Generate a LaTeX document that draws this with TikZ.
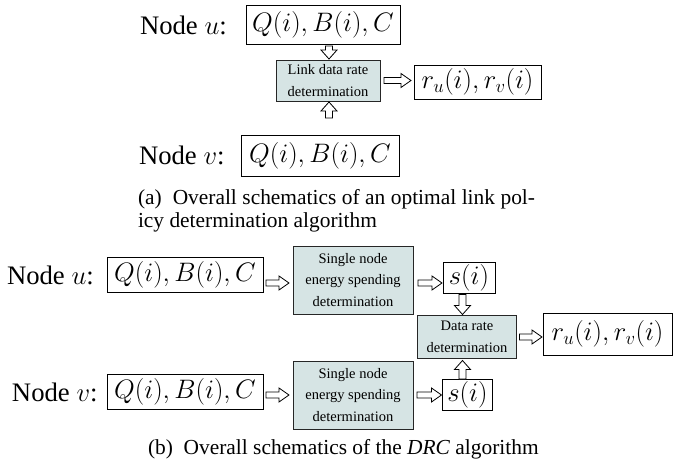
\documentclass[tikz,border=0pt]{standalone}
\usepackage{fix-cm}
\usepackage[no-math]{fontspec}
\setmainfont{Liberation Serif}
\usetikzlibrary{calc}
\definecolor{boxfill}{RGB}{214,228,228}
\newcommand\harrow[2]{\draw[barrow] let \p1=#1, \p2=#2 in
  (\x1,\y2+3pt) -- (\x2-10pt,\y2+3pt) -- (\x2-10pt,\y2+7pt) -- (\x2,\y2) --
  (\x2-10pt,\y2-7pt) -- (\x2-10pt,\y2-3pt) -- (\x1,\y2-3pt) -- cycle;}
\newcommand\darrow[2]{\draw[barrow] let \p1=#1, \p2=#2 in
  (\x2-3.5pt,\y1) -- (\x2-3.5pt,\y2+9pt) -- (\x2-8pt,\y2+9pt) -- (\x2,\y2) --
  (\x2+8pt,\y2+9pt) -- (\x2+3.5pt,\y2+9pt) -- (\x2+3.5pt,\y1) -- cycle;}
\newcommand\uarrow[2]{\draw[barrow] let \p1=#1, \p2=#2 in
  (\x2-3.5pt,\y1) -- (\x2-3.5pt,\y2-9pt) -- (\x2-8pt,\y2-9pt) -- (\x2,\y2) --
  (\x2+8pt,\y2-9pt) -- (\x2+3.5pt,\y2-9pt) -- (\x2+3.5pt,\y1) -- cycle;}
\tikzset{
  every node/.style={inner sep=0pt, outer sep=0pt},
  lbl/.style={font=\fontsize{26.7}{32}\selectfont},
  valbox/.style={draw, line width=1pt, font=\fontsize{26.7}{32}\selectfont},
  procbox/.style={draw=black!85, fill=boxfill, line width=1pt, align=center,
    font=\fontsize{14.5}{21.5}\selectfont},
  captxt/.style={font=\fontsize{21.4}{25}\selectfont},
  barrow/.style={draw, fill=white, line width=0.8pt, line join=miter},
}
\begin{document}
\begin{tikzpicture}[x=1pt,y=-1pt]
\useasboundingbox (0,0) rectangle (673,466);
% ---- panel (a)
\node[lbl, anchor=base west] (lu) at (140,34) {Node $u$:};
\node[valbox, minimum width=154, minimum height=39] (qu) at (323,24.5) {$Q(i), B(i), C$};
\node[procbox, minimum width=104, minimum height=41] (ld) at (328,80.5) {Link data rate\\determination};
\node[valbox, minimum width=127, minimum height=34] (ra) at (477.5,82) {$r_u(i), r_v(i)$};
\node[lbl, anchor=base west] (lv) at (139,164) {Node $v$:};
\node[valbox, minimum width=158, minimum height=41] (qv) at (320,155.5) {$Q(i), B(i), C$};
\darrow{([yshift=-2pt]qu.south)}{([xshift=1pt,yshift=1pt]ld.north)}
\uarrow{([yshift=17pt]qv.north)}{([xshift=1pt,yshift=-1pt]ld.south)}
\harrow{([xshift=4pt]ld.east)}{([xshift=-3pt]ra.west |- ld.east)}
\node[captxt, anchor=base west] (ca1) at (138,204) {\makebox[397pt][s]{(a)\ \ Overall schematics of an optimal link pol-}};
\node[captxt, anchor=base west] (ca2) at (138,227) {icy determination algorithm};
% ---- panel (b)
\node[lbl, anchor=base west] (lbu) at (7,284) {Node $u$:};
\node[valbox, minimum width=156, minimum height=35] (qbu) at (185,275) {$Q(i), B(i), C$};
\node[procbox, minimum width=120, minimum height=68] (snu) at (353,280) {Single node\\energy spending\\determination};
\node[valbox, minimum width=52, minimum height=31] (su) at (469,278) {$s(i)$};
\node[procbox, minimum width=99, minimum height=43] (dr) at (467,337) {Data rate\\determination};
\node[valbox, minimum width=129, minimum height=42] (rb) at (607.5,334) {$r_u(i), r_v(i)$};
\node[valbox, minimum width=50, minimum height=31] (sv) at (467.5,394.5) {$s(i)$};
\node[procbox, minimum width=120, minimum height=68] (snv) at (353,395) {Single node\\energy spending\\determination};
\node[valbox, minimum width=156, minimum height=35] (qbv) at (185,392) {$Q(i), B(i), C$};
\node[lbl, anchor=base west] (lbv) at (12,401) {Node $v$:};
\harrow{([xshift=3pt]qbu.east)}{([xshift=-4pt,yshift=-3pt]snu.west)}
\harrow{([xshift=5pt]snu.east)}{([xshift=-1pt,yshift=-3pt]su.west |- snu.east)}
\darrow{([yshift=-1pt]su.south)}{([xshift=-4.5pt,yshift=1pt]dr.north)}
\harrow{([xshift=3pt]dr.east)}{([xshift=-1pt]rb.west |- dr.east)}
\uarrow{(sv.north)}{([xshift=-4.5pt,yshift=-2pt]dr.south)}
\harrow{([xshift=4pt]snv.east)}{([xshift=-1pt]sv.west |- snv.east)}
\harrow{([xshift=3pt]qbv.east)}{([xshift=-4pt]snv.west)}
\node[captxt, anchor=base west] (cb) at (148,454) {(b)\ \ Overall schematics of the \textit{DRC} algorithm};
\end{tikzpicture}
\end{document}
